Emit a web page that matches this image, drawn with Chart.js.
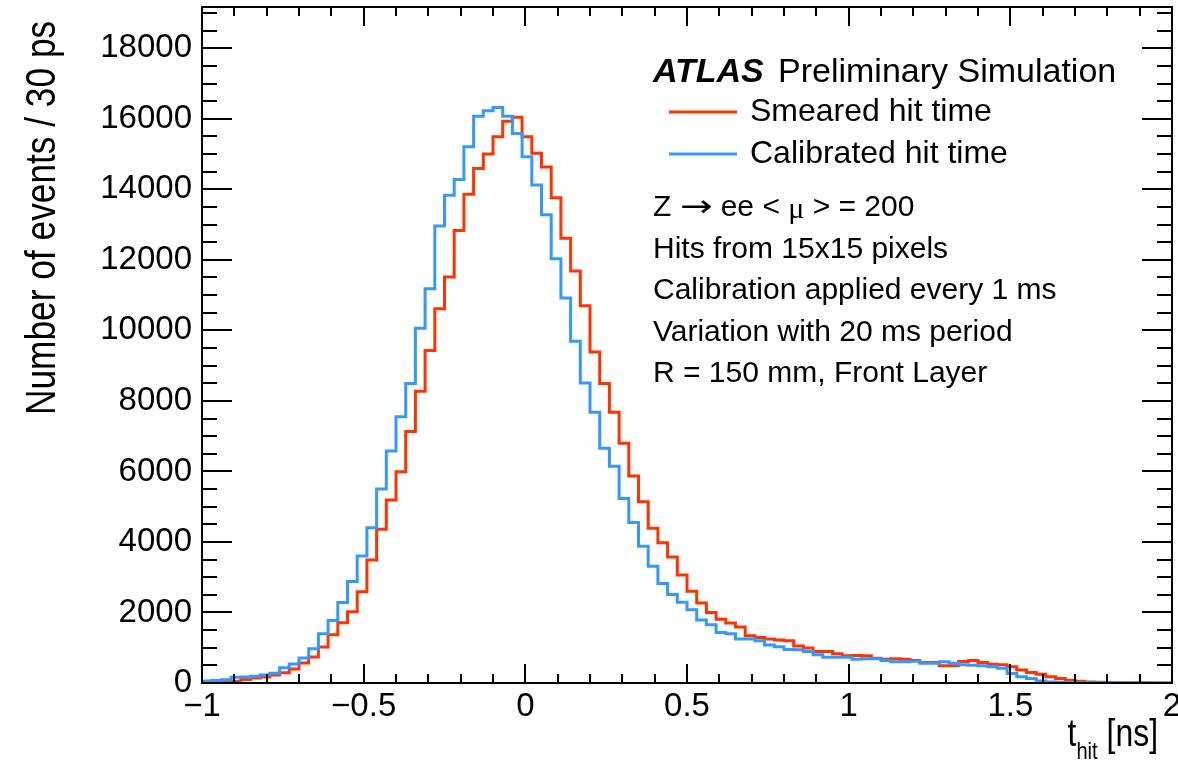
<!DOCTYPE html>
<html>
<head>
<meta charset="utf-8">
<title>t_hit</title>
<script src="https://cdn.jsdelivr.net/npm/chart.js@4.4.0/dist/chart.umd.min.js"></script>
<style>
  html, body { margin: 0; padding: 0; background: #fff; }
</style>
</head>
<body>
<canvas id="myChart" width="1178" height="763"></canvas>
<script>
// 30 ps bins between -1 and 2 ns
const xMin = -1;
const xMax = 2;
const binWidth = 0.03;
const yMax = 19170;

const xTickValues = [-1, -0.5, 0, 0.5, 1, 1.5, 2];
const yTickValues = [0, 2000, 4000, 6000, 8000, 10000, 12000, 14000, 16000, 18000];

// bin contents, left to right
const smeared = [
  20, 20, 30, 50, 100, 140, 170, 230, 290, 400,
  570, 740, 1020, 1370, 1710, 2020, 2590, 3490, 4360, 5190,
  5990, 7130, 8270, 9430, 10610, 11510, 12830, 13860, 14590, 15000,
  15490, 15930, 16040, 15490, 15020, 14630, 13760, 12610, 11680, 10700,
  9390, 8490, 7680, 6800, 5870, 5140, 4390, 3980, 3570, 3060,
  2600, 2270, 2000, 1810, 1700, 1590, 1340, 1290, 1250, 1220,
  1200, 1050, 990, 890, 890, 830, 770, 780, 770, 700,
  670, 690, 670, 640, 580, 580, 490, 490, 610, 640,
  580, 530, 520, 460, 370, 300, 250, 180, 130, 80,
  50, 30, 20, 15, 10, 8, 5, 5, 3, 3
];
const calibrated = [
  60, 70, 90, 160, 170, 190, 230, 280, 430, 540,
  710, 970, 1400, 1770, 2280, 2880, 3600, 4400, 5500, 6580,
  7550, 8490, 10060, 11180, 12960, 13830, 14280, 15210, 16070, 16230,
  16320, 16070, 15580, 14920, 14120, 13280, 12030, 10920, 9690, 8510,
  7680, 6660, 6150, 5230, 4550, 3880, 3310, 2820, 2510, 2290,
  2080, 1790, 1650, 1430, 1400, 1250, 1250, 1200, 1080, 1030,
  950, 940, 890, 800, 730, 730, 730, 670, 690, 690,
  640, 600, 600, 620, 560, 560, 600, 560, 520, 500,
  490, 460, 420, 270, 180, 130, 60, 30, 20, 15,
  10, 8, 5, 5, 4, 3, 3, 2, 2, 2
];

const seriesNames = ['Smeared hit time', 'Calibrated hit time'];
const seriesColors = ['#ff3300', '#3399ff'];
const infoLines = [
  'Hits from 15x15 pixels',
  'Calibration applied every 1 ms',
  'Variation with 20 ms period',
  'R = 150 mm, Front Layer'
];
const yTitle = 'Number of events / 30 ps';

const FONT = '"Liberation Sans", Arial, Helvetica, sans-serif';

// histogram outline: one point per left bin edge, plus the closing edge
function toSteps(values) {
  var pts = values.map(function (v, i) {
    return { x: xMin + i * binWidth, y: v };
  });
  pts.push({ x: xMax, y: values[values.length - 1] });
  return pts;
}

function fmt(v) {
  var s = String(Math.round(v * 10) / 10);
  return s.replace('-', '\u2212');
}

function line(ctx, x1, y1, x2, y2) {
  ctx.beginPath();
  ctx.moveTo(x1, y1);
  ctx.lineTo(x2, y2);
  ctx.stroke();
}

// stretched / condensed text (axis titles look narrow in the original)
function scaledText(ctx, text, x, y, font, sx, rot) {
  ctx.save();
  ctx.translate(x, y);
  if (rot) ctx.rotate(rot);
  ctx.scale(sx, 1);
  ctx.font = font;
  ctx.textAlign = 'left';
  ctx.fillText(text, 0, 0);
  var w = ctx.measureText(text).width * sx;
  ctx.restore();
  return w;
}

const decorations = {
  id: 'decorations',
  afterDraw(chart) {
    const ctx = chart.ctx;
    const a = chart.chartArea;
    const xs = chart.scales.x;
    const ys = chart.scales.y;
    ctx.save();
    ctx.strokeStyle = '#000';
    ctx.lineWidth = 2;
    ctx.strokeRect(a.left, a.top, a.right - a.left, a.bottom - a.top);

    // ticks on all four sides, minor every 0.1 ns / 500 events
    for (let k = 0; k <= 30; k++) {
      const px = Math.round(xs.getPixelForValue(xMin + k * 0.1));
      const len = k % 5 === 0 ? 19 : 9;
      line(ctx, px, a.bottom, px, a.bottom - len);
      line(ctx, px, a.top, px, a.top + len);
    }
    for (let v = 0; v <= yMax; v += 500) {
      const py = Math.round(ys.getPixelForValue(v));
      const len = v % 2000 === 0 ? 30 : 15;
      line(ctx, a.left, py, a.left + len, py);
      line(ctx, a.right, py, a.right - len, py);
    }

    ctx.fillStyle = '#000';
    ctx.textBaseline = 'middle';
    ctx.textAlign = 'left';

    // ATLAS label
    ctx.font = 'italic bold 34px ' + FONT;
    ctx.fillText('ATLAS', 653, 73);
    ctx.font = '34px ' + FONT;
    ctx.fillText('Preliminary Simulation', 778, 73);

    // legend
    const legendY = [112, 154];
    ctx.font = '32px ' + FONT;
    for (let i = 0; i < seriesNames.length; i++) {
      ctx.strokeStyle = seriesColors[i];
      ctx.lineWidth = 3;
      line(ctx, 669, legendY[i], 737, legendY[i]);
      ctx.fillText(seriesNames[i], 750, legendY[i]);
    }

    // info text
    const f30 = '30px ' + FONT;
    const firstY = 208;
    let tx = 653;
    tx += scaledText(ctx, 'Z ', tx, firstY, f30, 1);
    tx += scaledText(ctx, '\u2192', tx, firstY, '30px "DejaVu Sans", sans-serif', 1.3);
    tx += scaledText(ctx, ' ee < ', tx, firstY, f30, 1);
    tx += scaledText(ctx, '\u03bc', tx, firstY + 2, '30px "Liberation Serif", serif', 1);
    scaledText(ctx, ' > = 200', tx, firstY, f30, 1);
    ctx.font = f30;
    for (let i = 0; i < infoLines.length; i++) {
      ctx.fillText(infoLines[i], 653, firstY + 41.5 * (i + 1));
    }

    // axis titles
    ctx.textBaseline = 'alphabetic';
    scaledText(ctx, yTitle, 55, 415, '42px ' + FONT, 0.84, -Math.PI / 2);

    const big = '38px ' + FONT;
    const small = '24px ' + FONT;
    ctx.font = big;
    const wT = ctx.measureText('t').width * 0.84;
    const wNs = ctx.measureText(' [ns]').width * 0.84;
    ctx.font = small;
    const wSub = ctx.measureText('hit').width * 0.84;
    let px = 1158 - wNs - wSub - wT;
    px += scaledText(ctx, 't', px, 746, big, 0.84);
    px += scaledText(ctx, 'hit', px, 759, small, 0.84);
    scaledText(ctx, ' [ns]', px, 746, big, 0.84);

    ctx.restore();
  }
};

function loadChart() {
  new Chart(document.getElementById('myChart'), {
    type: 'line',
    data: {
      datasets: [
        {
          label: seriesNames[0],
          data: toSteps(smeared),
          borderColor: seriesColors[0],
          order: 1
        },
        {
          label: seriesNames[1],
          data: toSteps(calibrated),
          borderColor: seriesColors[1],
          order: 0
        }
      ]
    },
    options: {
      responsive: false,
      animation: false,
      devicePixelRatio: 1,
      datasets: {
        line: { stepped: true, borderWidth: 3, pointRadius: 0, fill: false, tension: 0 }
      },
      layout: { padding: { top: 7, right: 6, left: 0, bottom: 0 } },
      plugins: {
        legend: { display: false },
        tooltip: { enabled: false }
      },
      scales: {
        x: {
          type: 'linear',
          min: xMin,
          max: xMax,
          grid: { display: false, drawTicks: false },
          border: { display: false },
          ticks: {
            autoSkip: false,
            maxRotation: 0,
            padding: 4,
            color: '#000',
            font: { family: FONT, size: 33 },
            callback: function (v) { return fmt(v); }
          },
          afterBuildTicks: function (scale) {
            scale.ticks = xTickValues.map(function (v) { return { value: v }; });
          },
          afterFit: function (scale) {
            scale.height = 80;
            scale.paddingLeft = 0;
            scale.paddingRight = 0;
          }
        },
        y: {
          min: 0,
          max: yMax,
          grid: { display: false, drawTicks: false },
          border: { display: false },
          ticks: {
            padding: 10,
            color: '#000',
            font: { family: FONT, size: 33 },
            callback: function (v) { return String(v); }
          },
          afterBuildTicks: function (scale) {
            scale.ticks = yTickValues.map(function (v) { return { value: v }; });
          },
          afterFit: function (scale) {
            scale.width = 202;
            scale.paddingTop = 0;
            scale.paddingBottom = 0;
          }
        }
      }
    },
    plugins: [decorations]
  });
}

window.onload = loadChart;
</script>
</body>
</html>
